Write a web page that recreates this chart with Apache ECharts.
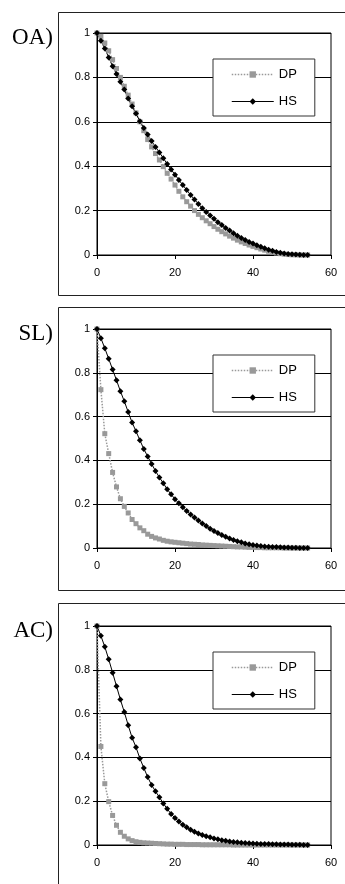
<!DOCTYPE html>
<html>
<head>
<meta charset="utf-8">
<script src="https://cdn.jsdelivr.net/npm/echarts@6/dist/echarts.min.js"></script>
<style>
  html, body { margin: 0; padding: 0; background: #fff; }
  #chart { width: 345px; height: 884px; }
</style>
</head>
<body>
<div id="chart"></div>
<script>
// x positions (steps)
const xs = [0, 1, 2, 3, 4, 5, 6, 7, 8, 9, 10, 11, 12, 13, 14, 15, 16, 17, 18, 19, 20,
  21, 22, 23, 24, 25, 26, 27, 28, 29, 30, 31, 32, 33, 34, 35, 36, 37, 38, 39, 40,
  41, 42, 43, 44, 45, 46, 47, 48, 49, 50, 51, 52, 53, 54];

const panelNames = ['OA)', 'SL)', 'AC)'];
const seriesNames = ['DP', 'HS'];

// OA panel
const dpOA = [1, 0.985, 0.955, 0.92, 0.88, 0.84, 0.8, 0.76, 0.72, 0.68, 0.64,
  0.6, 0.56, 0.52, 0.487, 0.457, 0.428, 0.398, 0.368, 0.342, 0.315,
  0.287, 0.262, 0.24, 0.22, 0.2, 0.183, 0.168, 0.154, 0.141, 0.128,
  0.116, 0.105, 0.095, 0.085, 0.076, 0.067, 0.059, 0.052, 0.045, 0.039,
  0.033, 0.027, 0.022, 0.017, 0.013, 0.009, 0.006, 0.004, 0.002, 0.001,
  0.001, 0, 0, 0];
const hsOA = [1, 0.965, 0.93, 0.89, 0.85, 0.815, 0.78, 0.745, 0.705, 0.67, 0.637,
  0.603, 0.572, 0.543, 0.513, 0.487, 0.462, 0.436, 0.41, 0.385, 0.362,
  0.338, 0.315, 0.293, 0.27, 0.25, 0.23, 0.211, 0.194, 0.178, 0.163,
  0.148, 0.135, 0.122, 0.11, 0.098, 0.087, 0.077, 0.068, 0.059, 0.052,
  0.044, 0.037, 0.03, 0.024, 0.019, 0.014, 0.01, 0.007, 0.005, 0.003,
  0.002, 0.001, 0, 0];

// SL panel
const dpSL = [1, 0.723, 0.522, 0.431, 0.345, 0.279, 0.225, 0.19, 0.16, 0.13, 0.111,
  0.092, 0.079, 0.063, 0.053, 0.046, 0.041, 0.035, 0.031, 0.028, 0.026,
  0.024, 0.022, 0.02, 0.018, 0.017, 0.016, 0.014, 0.013, 0.012, 0.011,
  0.01, 0.009, 0.008, 0.007, 0.006, 0.005, 0.005, 0.004, 0.003, 0.003,
  0.002, 0.002, 0.001, 0.001, 0.001, 0.001, 0.001, 0, 0, 0,
  0, 0, 0, 0];
const hsSL = [1, 0.958, 0.912, 0.864, 0.815, 0.766, 0.716, 0.67, 0.621, 0.573, 0.533,
  0.492, 0.452, 0.418, 0.384, 0.352, 0.322, 0.296, 0.268, 0.245, 0.223,
  0.204, 0.186, 0.169, 0.153, 0.139, 0.126, 0.112, 0.1, 0.088, 0.078,
  0.068, 0.059, 0.051, 0.043, 0.037, 0.031, 0.026, 0.021, 0.017, 0.014,
  0.011, 0.009, 0.007, 0.006, 0.005, 0.004, 0.003, 0.002, 0.002, 0.001,
  0.001, 0, 0, 0];

// AC panel
const dpAC = [1, 0.45, 0.28, 0.198, 0.135, 0.09, 0.058, 0.04, 0.028, 0.02, 0.015,
  0.012, 0.01, 0.009, 0.008, 0.007, 0.006, 0.005, 0.004, 0.004, 0.003,
  0.003, 0.003, 0.002, 0.002, 0.002, 0.002, 0.001, 0.001, 0.001, 0.001,
  0.001, 0.001, 0.001, 0.001, 0, 0, 0, 0, 0, 0,
  0, 0, 0, 0, 0, 0, 0, 0, 0, 0,
  0, 0, 0, 0];
const hsAC = [1, 0.955, 0.905, 0.848, 0.787, 0.725, 0.664, 0.607, 0.547, 0.49, 0.446,
  0.395, 0.352, 0.31, 0.274, 0.245, 0.218, 0.19, 0.165, 0.142, 0.123,
  0.107, 0.093, 0.081, 0.07, 0.06, 0.053, 0.046, 0.04, 0.035, 0.03,
  0.026, 0.022, 0.019, 0.016, 0.014, 0.012, 0.01, 0.009, 0.008, 0.007,
  0.006, 0.005, 0.004, 0.004, 0.003, 0.003, 0.002, 0.002, 0.002, 0.001,
  0.001, 0.001, 0, 0];

const dpData = [dpOA, dpSL, dpAC];
const hsData = [hsOA, hsSL, hsAC];

const xTicks = { min: 0, max: 60, interval: 20 };
const yTicks = { min: 0, max: 1, interval: 0.2 };

// layout of the three panels
const plotTops = [33, 329, 626];
const plotHeights = [222, 219, 219];
const frameTops = [12, 307, 603];
const frameHeights = [283, 283, 290];

const chart = echarts.init(document.getElementById('chart'), null, { renderer: 'canvas' });

const pair = arr => arr.map((v, i) => [xs[i], v]);
const fontSans = 'Liberation Sans, Arial, sans-serif';

const grids = [], xAxes = [], yAxes = [], series = [], legends = [], graphics = [];

for (let p = 0; p < 3; p++) {
  grids.push({
    left: 97, right: 14, top: plotTops[p], height: plotHeights[p],
    show: true, borderColor: '#000', borderWidth: 1, backgroundColor: '#fff'
  });
  xAxes.push({
    gridIndex: p, type: 'value', min: xTicks.min, max: xTicks.max, interval: xTicks.interval,
    axisLine: { show: true, lineStyle: { color: '#000', width: 1 } },
    axisTick: { show: true, length: 4, lineStyle: { color: '#000' } },
    axisLabel: { color: '#000', fontSize: 11, fontFamily: fontSans, margin: 12 },
    splitLine: { show: false }
  });
  yAxes.push({
    gridIndex: p, type: 'value', min: yTicks.min, max: yTicks.max, interval: yTicks.interval,
    axisLine: { show: true, lineStyle: { color: '#000', width: 1 } },
    axisTick: { show: true, length: 4, lineStyle: { color: '#000' } },
    axisLabel: { color: '#000', fontSize: 11, fontFamily: fontSans, margin: 7 },
    splitLine: { show: true, lineStyle: { color: '#000', width: 1 } }
  });
  series.push({
    name: seriesNames[0], type: 'line', xAxisIndex: p, yAxisIndex: p,
    data: pair(dpData[p]),
    symbol: 'rect', symbolSize: 5, showAllSymbol: true,
    itemStyle: { color: '#999' },
    lineStyle: { color: '#999', width: 1.5, type: 'dotted' },
    animation: false
  });
  series.push({
    name: seriesNames[1], type: 'line', xAxisIndex: p, yAxisIndex: p,
    data: pair(hsData[p]),
    symbol: 'diamond', symbolSize: 6, showAllSymbol: true,
    itemStyle: { color: '#000' },
    lineStyle: { color: '#000', width: 1 },
    animation: false
  });
  legends.push({
    data: [
      { name: seriesNames[0], lineStyle: { color: '#999', width: 1.5, type: 'dotted' } },
      { name: seriesNames[1], lineStyle: { color: '#000', width: 1, type: 'solid' } }
    ],
    orient: 'vertical', align: 'left',
    left: 213, top: plotTops[p] + 26,
    itemWidth: 42, itemHeight: 8, itemGap: 14,
    padding: [9, 18, 8, 18],
    borderColor: '#333', borderWidth: 1, backgroundColor: '#fff',
    textStyle: { color: '#000', fontSize: 13, fontFamily: fontSans },
    selectedMode: false
  });
  graphics.push({
    type: 'rect', silent: true,
    shape: { x: 58.5, y: frameTops[p] + 0.5, width: 320, height: frameHeights[p] },
    style: { fill: 'none', stroke: '#222', lineWidth: 1 }
  });
  graphics.push({
    type: 'text', silent: true,
    x: 53, y: plotTops[p] + 5,
    style: {
      text: panelNames[p], fill: '#000',
      font: '23px "Liberation Serif", "Times New Roman", serif',
      align: 'right', verticalAlign: 'middle'
    }
  });
}

chart.setOption({
  animation: false,
  backgroundColor: '#fff',
  grid: grids,
  xAxis: xAxes,
  yAxis: yAxes,
  legend: legends,
  graphic: graphics,
  series: series
});
</script>
</body>
</html>
